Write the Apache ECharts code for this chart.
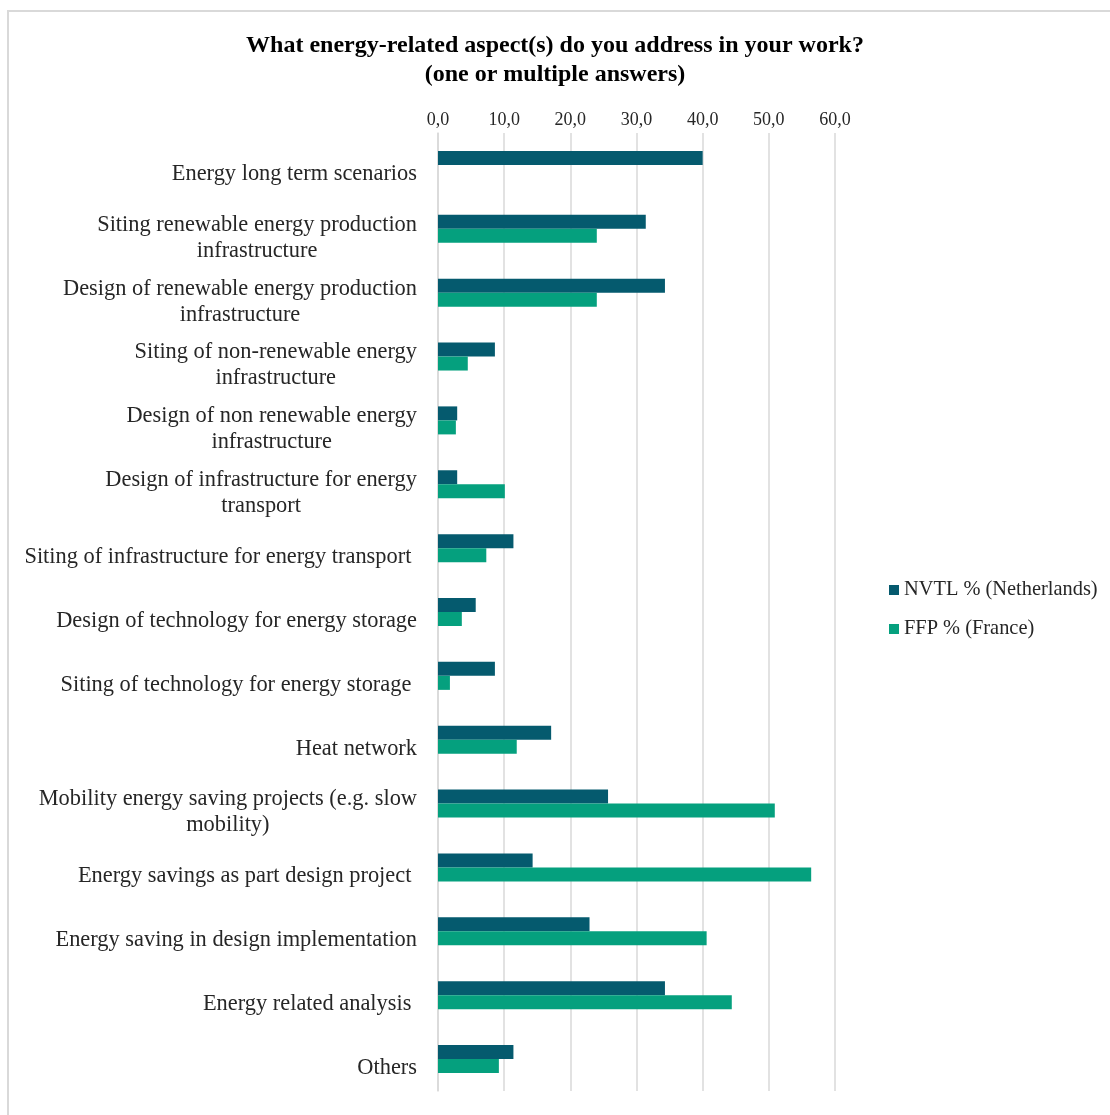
<!DOCTYPE html>
<html>
<head>
<meta charset="utf-8">
<script src="https://cdn.jsdelivr.net/npm/echarts@6/dist/echarts.min.js"></script>
<style>
html,body{margin:0;padding:0;background:#fff;}
#c{width:1110px;height:1115px;}
</style>
</head>
<body>
<div id="c"></div>
<script>
const categories = [
  "Energy long term scenarios",
  "Siting renewable energy production\ninfrastructure",
  "Design of renewable energy production\ninfrastructure",
  "Siting of non-renewable energy\ninfrastructure",
  "Design of non renewable energy\ninfrastructure",
  "Design of infrastructure for energy\ntransport",
  "Siting of infrastructure for energy transport ",
  "Design of technology for energy storage",
  "Siting of technology for energy storage ",
  "Heat network",
  "Mobility energy saving projects (e.g. slow\nmobility)",
  "Energy savings as part design project ",
  "Energy saving in design implementation",
  "Energy related analysis ",
  "Others"
];
const nvtl = [40.0, 31.4, 34.3, 8.6, 2.9, 2.9, 11.4, 5.7, 8.6, 17.1, 25.7, 14.3, 22.9, 34.3, 11.4];
const ffp  = [0, 24.0, 24.0, 4.5, 2.7, 10.1, 7.3, 3.6, 1.8, 11.9, 50.9, 56.4, 40.6, 44.4, 9.2];
const seriesNames = ["NVTL % (Netherlands)", "FFP % (France)"];
const xTicks = [0, 10, 20, 30, 40, 50, 60];

const chart = echarts.init(document.getElementById('c'), null, {renderer: 'canvas'});
const serif = '"Liberation Serif", "DejaVu Serif", serif';
chart.setOption({
  backgroundColor: '#ffffff',
  animation: false,
  title: {
    text: 'What energy-related aspect(s) do you address in your work?\n(one or multiple answers)',
    left: 'center',
    top: 26,
    textStyle: {fontFamily: serif, fontSize: 24, fontWeight: 'bold', color: '#000', lineHeight: 29}
  },
  graphic: [{
    type: 'rect', silent: true,
    shape: {x: 8, y: 11, width: 1300, height: 1300},
    style: {fill: 'none', stroke: '#d9d9d9', lineWidth: 2}
  }],
  legend: {
    orient: 'vertical',
    left: 884,
    top: 575,
    itemWidth: 10,
    itemHeight: 10,
    itemGap: 19,
    icon: 'rect',
    data: seriesNames,
    textStyle: {fontFamily: serif, fontSize: 20.4, color: '#262626'}
  },
  grid: {left: 438, right: 275, top: 133, bottom: 24, containLabel: false},
  xAxis: {
    type: 'value',
    position: 'top',
    min: xTicks[0],
    max: xTicks[xTicks.length - 1],
    interval: 10,
    axisLine: {show: false},
    axisTick: {show: false},
    axisLabel: {
      fontFamily: serif, fontSize: 18, color: '#262626', margin: 4,
      formatter: v => v.toFixed(1).replace('.', ',')
    },
    splitLine: {show: true, lineStyle: {color: '#d9d9d9', width: 1.5}}
  },
  yAxis: {
    type: 'category',
    inverse: true,
    data: categories,
    axisLine: {show: true, lineStyle: {color: '#d9d9d9', width: 1.5}},
    axisTick: {show: false},
    axisLabel: {
      margin: 21,
      fontFamily: serif, fontSize: 22.4, color: '#262626', lineHeight: 26,
      padding: [18, 0, 0, 0],
      formatter: v => v.split('\n').map(s => '{c|' + s + '}').join('\n'),
      rich: {c: {align: 'center', fontFamily: serif, fontSize: 22.4, color: '#262626', lineHeight: 26}}
    }
  },
  series: [
    {name: seriesNames[0], type: 'bar', data: nvtl, barWidth: 14, barGap: '0%',
     itemStyle: {color: '#055a6e'}},
    {name: seriesNames[1], type: 'bar', data: ffp, barWidth: 14, barGap: '0%',
     itemStyle: {color: '#05a07e'}}
  ]
});
</script>
</body>
</html>
